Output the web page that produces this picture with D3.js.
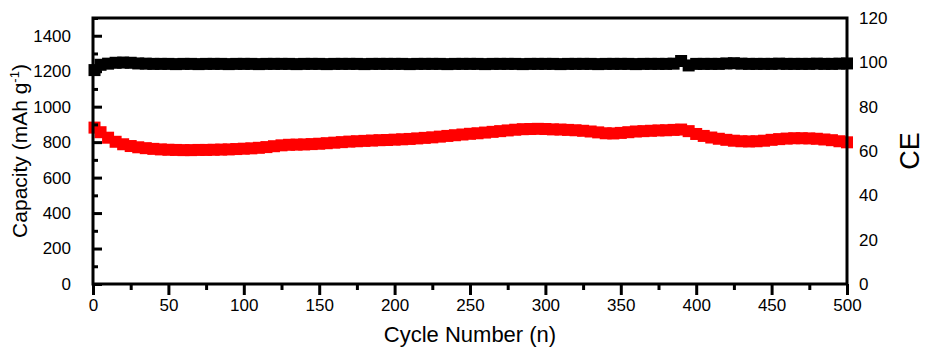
<!DOCTYPE html>
<html>
<head>
<meta charset="utf-8">
<script src="https://cdn.jsdelivr.net/npm/d3@7"></script>
<style>
  body { margin: 0; background: #fff; }
  svg text { font-family: "Liberation Sans", Arial, sans-serif; fill: #000; }
</style>
</head>
<body>
<script>
// cycle numbers (every 5th cycle)
const cycles = [1].concat(d3.range(5, 501, 5));

// discharge capacity, mAh g-1
const capacity = [
  882, 856, 825, 802, 788, 778, 771, 766, 762, 759,
  757, 756, 755, 755, 756, 756, 757, 758, 759, 761,
  763, 765, 768, 772, 777, 782, 785, 786, 787, 789,
  791, 794, 797, 800, 803, 805, 807, 809, 811, 812,
  814, 816, 818, 821, 824, 827, 831, 835, 839, 843,
  847, 850, 854, 858, 862, 866, 870, 873, 874, 875,
  874, 872, 871, 869, 867, 864, 860, 855, 850, 849,
  852, 856, 860, 862, 864, 866, 867, 869, 871, 862,
  846, 835, 826, 819, 813, 808, 805, 804, 805, 808,
  813, 817, 820, 822, 822, 821, 819, 815, 811, 805,
  799
];

// coulombic efficiency, %
const ce = [
  96.5, 98.9, 99.4, 99.8, 99.9, 99.8, 99.5, 99.4, 99.3, 99.3,
  99.3, 99.2, 99.3, 99.3, 99.2, 99.3, 99.3, 99.3, 99.2, 99.3,
  99.3, 99.3, 99.2, 99.3, 99.3, 99.3, 99.3, 99.2, 99.3, 99.3,
  99.3, 99.2, 99.3, 99.3, 99.3, 99.3, 99.2, 99.3, 99.3, 99.3,
  99.3, 99.3, 99.2, 99.3, 99.3, 99.3, 99.3, 99.2, 99.3, 99.3,
  99.3, 99.3, 99.2, 99.3, 99.3, 99.3, 99.3, 99.2, 99.3, 99.3,
  99.3, 99.3, 99.2, 99.3, 99.3, 99.3, 99.3, 99.2, 99.3, 99.3,
  99.3, 99.3, 99.2, 99.3, 99.3, 99.3, 99.3, 99.4, 100.6, 98.6,
  99.3, 99.3, 99.3, 99.3, 99.5, 99.6, 99.4, 99.3, 99.3, 99.3,
  99.3, 99.4, 99.3, 99.3, 99.3, 99.3, 99.4, 99.3, 99.3, 99.4,
  99.5
];

const xTicks = d3.range(0, 501, 50);
const capTicks = d3.range(0, 1401, 200);
const ceTicks = d3.range(0, 121, 20);

const width = 927, height = 349;
const margin = { top: 18, right: 80, bottom: 65, left: 93 };
const innerW = 847 - margin.left, innerH = 284 - margin.top;

const svg = d3.select("body").append("svg")
    .attr("width", width)
    .attr("height", height);

const g = svg.append("g")
    .attr("transform", `translate(${margin.left},${margin.top})`);

const x = d3.scaleLinear().domain([0, 500]).range([0, innerW]);
const y = d3.scaleLinear().domain([0, 1500]).range([innerH, 0]);
const y2 = d3.scaleLinear().domain([0, 120]).range([innerH, 0]);

const sq = 12;

// capacity markers
g.append("g").selectAll("rect")
    .data(cycles)
    .join("rect")
    .attr("x", d => x(d) - sq / 2)
    .attr("y", (d, i) => y(capacity[i]) - sq / 2)
    .attr("width", sq)
    .attr("height", sq)
    .attr("fill", "#ff0000");

// CE markers
g.append("g").selectAll("rect")
    .data(cycles)
    .join("rect")
    .attr("x", d => x(d) - sq / 2)
    .attr("y", (d, i) => y2(ce[i]) - sq / 2)
    .attr("width", sq)
    .attr("height", sq)
    .attr("fill", "#000");

// left axis, ticks inward
const left = g.append("g")
    .call(d3.axisLeft(y).tickValues(capTicks).tickSize(-9).tickPadding(22).tickFormat(d3.format("d")))
    .call(a => a.select(".domain").remove());
left.selectAll("text").style("font-size", "17px");
left.selectAll(".tick line").attr("stroke-width", 3);
g.append("g")
    .call(d3.axisLeft(y).tickValues(d3.range(100, 1501, 200)).tickSize(-5).tickFormat(""))
    .call(a => a.select(".domain").remove())
    .selectAll(".tick line").attr("stroke-width", 3);

// right axis, labels only
const right = g.append("g")
    .attr("transform", `translate(${innerW},0)`)
    .call(d3.axisRight(y2).tickValues(ceTicks).tickSize(0).tickPadding(12))
    .call(a => a.select(".domain").remove());
right.selectAll("text").style("font-size", "17px");

// bottom axis, ticks outward
const bottom = g.append("g")
    .attr("transform", `translate(0,${innerH})`)
    .call(d3.axisBottom(x).tickValues(xTicks).tickSize(11).tickPadding(4))
    .call(a => a.select(".domain").remove());
bottom.selectAll("text").style("font-size", "17px");
bottom.selectAll(".tick line").attr("stroke-width", 3);
g.append("g")
    .attr("transform", `translate(0,${innerH})`)
    .call(d3.axisBottom(x).tickValues(d3.range(25, 500, 50)).tickSize(6).tickFormat(""))
    .call(a => a.select(".domain").remove())
    .selectAll(".tick line").attr("stroke-width", 3);

// frame
g.append("rect")
    .attr("width", innerW)
    .attr("height", innerH)
    .attr("fill", "none")
    .attr("stroke", "#000")
    .attr("stroke-width", 3);

// titles
svg.append("text")
    .attr("x", margin.left + innerW / 2)
    .attr("y", 342)
    .attr("text-anchor", "middle")
    .style("font-size", "22px")
    .text("Cycle Number (n)");

const yl = svg.append("text")
    .attr("transform", `translate(27,${margin.top + innerH / 2}) rotate(-90)`)
    .attr("text-anchor", "middle")
    .style("font-size", "21px");
yl.append("tspan").text("Capacity (mAh g");
yl.append("tspan").attr("dy", -8).style("font-size", "13px").text("-1");
yl.append("tspan").attr("dy", 8).text(")");

svg.append("text")
    .attr("transform", `translate(919,${margin.top + innerH / 2}) rotate(-90)`)
    .attr("text-anchor", "middle")
    .style("font-size", "27px")
    .text("CE");
</script>
</body>
</html>
